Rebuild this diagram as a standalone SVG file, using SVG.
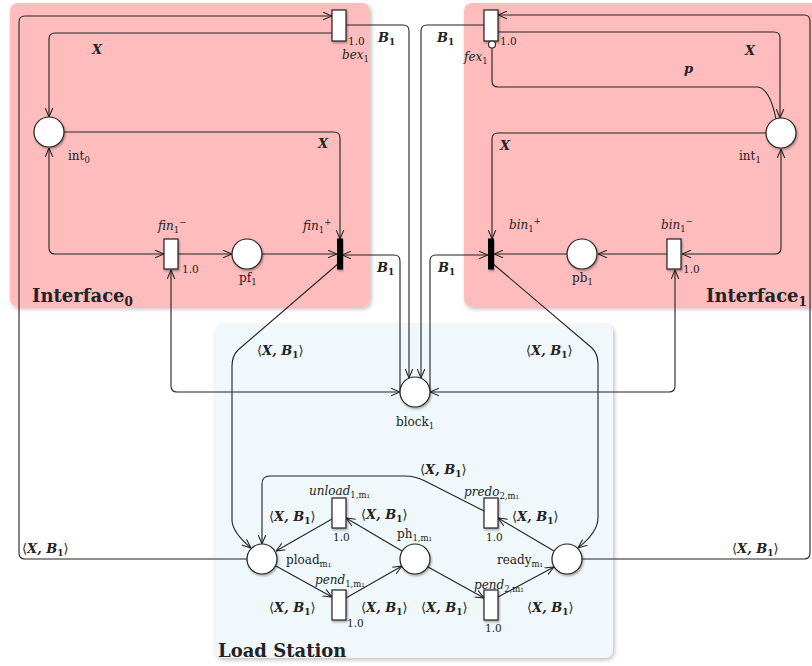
<svg xmlns="http://www.w3.org/2000/svg" width="812" height="666" viewBox="0 0 812 666" font-family="'DejaVu Serif', serif">
<style>
.edge{fill:none;stroke:#222;stroke-width:1.1}
.pl{fill:#fff;stroke:#222;stroke-width:1.2}
.tr{fill:#fff;stroke:#222;stroke-width:1.2}
.trb{fill:#000;stroke:#000;stroke-width:1}
text{fill:#222}
.lb{font-size:12px}
.it{font-size:12px;font-style:italic}
.w{font-size:10.5px}
.m{font-size:13px;font-weight:bold;font-style:italic}
.title{font-size:18px;font-weight:bold}
.ang{font-style:normal;font-weight:normal}
.s{font-size:8.5px;font-style:normal;font-weight:normal}
.sb{font-size:9px;font-style:normal;font-weight:bold}
</style>
<defs>
<filter id="sh" x="-20%" y="-20%" width="140%" height="140%">
<feDropShadow dx="1" dy="1.5" stdDeviation="1.2" flood-color="#000" flood-opacity="0.35"/>
</filter>
<filter id="bsh" x="-5%" y="-5%" width="110%" height="110%">
<feDropShadow dx="1.5" dy="2" stdDeviation="2" flood-color="#000" flood-opacity="0.25"/>
</filter>
<marker id="a" viewBox="0 0 10 10" refX="10" refY="5" markerWidth="9" markerHeight="9" markerUnits="userSpaceOnUse" orient="auto-start-reverse">
<path d="M0,0.8 L10,5 L0,9.2" fill="none" stroke="#222" stroke-width="1.2"/>
</marker>
</defs>

<g id="backgrounds">
<rect x="10" y="3" width="360" height="304" rx="8" fill="#ffbcbc" filter="url(#bsh)"/>
<rect x="464" y="3" width="360" height="304" rx="8" fill="#ffbcbc" filter="url(#bsh)"/>
<rect x="215" y="324" width="398" height="334" rx="8" fill="#f0f8fc" filter="url(#bsh)"/>
<text class="title" x="32" y="302">Interface<tspan font-size="12" baseline-shift="-4">0</tspan></text>
<text class="title" x="706" y="302">Interface<tspan font-size="12" baseline-shift="-4">1</tspan></text>
<text class="title" x="218" y="657">Load Station</text>
</g>

<g id="connectors">
<path class="edge" d="M247,559 L25,559 Q19,559 19,553 L19,22 Q19,16 25,16 L332,16" marker-end="url(#a)"/>
<path class="edge" d="M332,33 L55,33 Q49,33 49,39 L49,117" marker-end="url(#a)"/>
<path class="edge" d="M346,25 L403,25 Q409,25 409,31 L409,378" marker-end="url(#a)"/>
<path class="edge" d="M484,25 L427,25 Q421,25 421,31 L421,378" marker-end="url(#a)"/>
<path class="edge" d="M400,392 L400,261 Q400,255 394,255 L342,255" marker-end="url(#a)"/>
<path class="edge" d="M430,392 L430,261 Q430,255 436,255 L488,255" marker-end="url(#a)"/>
<path class="edge" d="M171,270 L171,386 Q171,392 177,392 L400,392" marker-start="url(#a)" marker-end="url(#a)"/>
<path class="edge" d="M675,270 L675,386 Q675,392 669,392 L430,392" marker-start="url(#a)" marker-end="url(#a)"/>
<path class="edge" d="M49,148 L49,248 Q49,254 55,254 L164,254" marker-start="url(#a)" marker-end="url(#a)"/>
<path class="edge" d="M178,254 L232,254" marker-end="url(#a)"/>
<path class="edge" d="M262,254 L337,254" marker-end="url(#a)"/>
<path class="edge" d="M64,132 L334,132 Q340,132 340,138 L340,239" marker-end="url(#a)"/>
<path class="edge" d="M339,263 L238,350 Q232,356 232,366 L232,520 Q232,532 251,548" marker-end="url(#a)"/>
<path class="edge" d="M781,149 L781,248 Q781,254 775,254 L682,254" marker-start="url(#a)" marker-end="url(#a)"/>
<path class="edge" d="M667,254 L598,254" marker-end="url(#a)"/>
<path class="edge" d="M567,254 L494,254" marker-end="url(#a)"/>
<path class="edge" d="M766,133 L498,133 Q492,133 492,139 L492,239" marker-end="url(#a)"/>
<path class="edge" d="M498,32 L774,32 Q780,32 780,38 L780,118" marker-end="url(#a)"/>
<path class="edge" d="M776,119 Q770,89 758,87 L498,87 Q492,87 492,81 L492,48"/>
<path class="edge" d="M492,263 L592,348 Q598,354 598,364 L598,518 Q598,532 578,548" marker-end="url(#a)"/>
<path class="edge" d="M582,559 L804,559 Q810,559 810,553 L810,21 Q810,15 804,15 L498,15" marker-end="url(#a)"/>
<path class="edge" d="M276,566 L332,597" marker-end="url(#a)"/>
<path class="edge" d="M346,598 L402,566" marker-end="url(#a)"/>
<path class="edge" d="M402,551 L346,518" marker-end="url(#a)"/>
<path class="edge" d="M332,519 L276,551" marker-end="url(#a)"/>
<path class="edge" d="M428,567 L484,598" marker-end="url(#a)"/>
<path class="edge" d="M498,597 L554,567" marker-end="url(#a)"/>
<path class="edge" d="M554,551 L498,518" marker-end="url(#a)"/>
<path class="edge" d="M484,511 L425,481 Q415,476 405,476 L270,476 Q262,476 262,484 L262,544" marker-end="url(#a)"/>
<g id="arc-labels">
<text class="m" x="92" y="54">X</text>
<text class="m" x="318" y="148">X</text>
<text class="m" x="745" y="55">X</text>
<text class="m" x="500" y="150">X</text>
<text class="m" x="684" y="73">p</text>
<text class="m" x="378" y="42">B<tspan class="sb" baseline-shift="-3">1</tspan></text>
<text class="m" x="437" y="42">B<tspan class="sb" baseline-shift="-3">1</tspan></text>
<text class="m" x="377" y="272">B<tspan class="sb" baseline-shift="-3">1</tspan></text>
<text class="m" x="438" y="272">B<tspan class="sb" baseline-shift="-3">1</tspan></text>
<text class="m" x="257" y="355"><tspan class="ang">⟨</tspan>X, B<tspan class="sb" baseline-shift="-3">1</tspan><tspan class="ang">⟩</tspan></text>
<text class="m" x="526" y="355"><tspan class="ang">⟨</tspan>X, B<tspan class="sb" baseline-shift="-3">1</tspan><tspan class="ang">⟩</tspan></text>
<text class="m" x="22" y="553"><tspan class="ang">⟨</tspan>X, B<tspan class="sb" baseline-shift="-3">1</tspan><tspan class="ang">⟩</tspan></text>
<text class="m" x="732" y="553"><tspan class="ang">⟨</tspan>X, B<tspan class="sb" baseline-shift="-3">1</tspan><tspan class="ang">⟩</tspan></text>
<text class="m" x="420" y="474"><tspan class="ang">⟨</tspan>X, B<tspan class="sb" baseline-shift="-3">1</tspan><tspan class="ang">⟩</tspan></text>
<text class="m" x="269" y="521"><tspan class="ang">⟨</tspan>X, B<tspan class="sb" baseline-shift="-3">1</tspan><tspan class="ang">⟩</tspan></text>
<text class="m" x="361" y="519"><tspan class="ang">⟨</tspan>X, B<tspan class="sb" baseline-shift="-3">1</tspan><tspan class="ang">⟩</tspan></text>
<text class="m" x="512" y="521"><tspan class="ang">⟨</tspan>X, B<tspan class="sb" baseline-shift="-3">1</tspan><tspan class="ang">⟩</tspan></text>
<text class="m" x="269" y="612"><tspan class="ang">⟨</tspan>X, B<tspan class="sb" baseline-shift="-3">1</tspan><tspan class="ang">⟩</tspan></text>
<text class="m" x="361" y="612"><tspan class="ang">⟨</tspan>X, B<tspan class="sb" baseline-shift="-3">1</tspan><tspan class="ang">⟩</tspan></text>
<text class="m" x="421" y="612"><tspan class="ang">⟨</tspan>X, B<tspan class="sb" baseline-shift="-3">1</tspan><tspan class="ang">⟩</tspan></text>
<text class="m" x="527" y="612"><tspan class="ang">⟨</tspan>X, B<tspan class="sb" baseline-shift="-3">1</tspan><tspan class="ang">⟩</tspan></text>
</g>
</g>

<g id="bex1">
<rect class="tr" x="332" y="10" width="14" height="31" filter="url(#sh)"/>
<text class="w" x="348" y="45">1.0</text>
<text class="it" x="342" y="59">bex<tspan class="s" baseline-shift="-3">1</tspan></text>
</g>
<g id="int0">
<circle class="pl" cx="49" cy="132" r="15" filter="url(#sh)"/>
<text class="lb" x="68" y="160">int<tspan class="s" baseline-shift="-3">0</tspan></text>
</g>
<g id="fin1minus">
<rect class="tr" x="164" y="239" width="14" height="30" filter="url(#sh)"/>
<text class="it" x="158" y="230">fin<tspan class="s" baseline-shift="-3">1</tspan><tspan class="s" baseline-shift="5">−</tspan></text>
<text class="w" x="182" y="273">1.0</text>
</g>
<g id="pf1">
<circle class="pl" cx="247" cy="254" r="15" filter="url(#sh)"/>
<text class="lb" x="239" y="282">pf<tspan class="s" baseline-shift="-3">1</tspan></text>
</g>
<g id="fin1plus">
<rect class="trb" x="337.5" y="239" width="5" height="30" filter="url(#sh)"/>
<text class="it" x="303" y="230">fin<tspan class="s" baseline-shift="-3">1</tspan><tspan class="s" baseline-shift="5">+</tspan></text>
</g>
<g id="fex1">
<rect class="tr" x="484" y="10" width="14" height="31" filter="url(#sh)"/>
<circle cx="492" cy="44.5" r="3.5" fill="#fff" stroke="#222" stroke-width="1.1"/>
<text class="w" x="500" y="45">1.0</text>
<text class="it" x="464" y="61">fex<tspan class="s" baseline-shift="-3">1</tspan></text>
</g>
<g id="int1">
<circle class="pl" cx="781" cy="133" r="15" filter="url(#sh)"/>
<text class="lb" x="739" y="160">int<tspan class="s" baseline-shift="-3">1</tspan></text>
</g>
<g id="bin1plus">
<rect class="trb" x="488.5" y="239" width="5" height="30" filter="url(#sh)"/>
<text class="it" x="509" y="229">bin<tspan class="s" baseline-shift="-3">1</tspan><tspan class="s" baseline-shift="5">+</tspan></text>
</g>
<g id="pb1">
<circle class="pl" cx="582" cy="254" r="15" filter="url(#sh)"/>
<text class="lb" x="572" y="282">pb<tspan class="s" baseline-shift="-3">1</tspan></text>
</g>
<g id="bin1minus">
<rect class="tr" x="667" y="239" width="14" height="30" filter="url(#sh)"/>
<text class="it" x="661" y="229">bin<tspan class="s" baseline-shift="-3">1</tspan><tspan class="s" baseline-shift="5">−</tspan></text>
<text class="w" x="683" y="273">1.0</text>
</g>
<g id="block1">
<circle class="pl" cx="415" cy="392" r="15" filter="url(#sh)"/>
<text class="lb" x="396" y="426">block<tspan class="s" baseline-shift="-3">1</tspan></text>
</g>
<g id="unload">
<rect class="tr" x="332" y="498" width="14" height="30" filter="url(#sh)"/>
<text class="it" x="309" y="495">unload<tspan class="s" baseline-shift="-3">1,m₁</tspan></text>
<text class="w" x="333" y="541">1.0</text>
</g>
<g id="pload">
<circle class="pl" cx="262" cy="559" r="15" filter="url(#sh)"/>
<text class="lb" x="286" y="564">pload<tspan class="s" baseline-shift="-3">m₁</tspan></text>
</g>
<g id="pend1">
<rect class="tr" x="332" y="590" width="14" height="30" filter="url(#sh)"/>
<text class="it" x="315" y="584">pend<tspan class="s" baseline-shift="-3">1,m₁</tspan></text>
<text class="w" x="347" y="627">1.0</text>
</g>
<g id="ph1">
<circle class="pl" cx="415" cy="559" r="15" filter="url(#sh)"/>
<text class="lb" x="397" y="538">ph<tspan class="s" baseline-shift="-3">1,m₁</tspan></text>
</g>
<g id="predo">
<rect class="tr" x="484" y="498" width="14" height="30" filter="url(#sh)"/>
<text class="it" x="464" y="496">predo<tspan class="s" baseline-shift="-3">2,m₁</tspan></text>
<text class="w" x="486" y="541">1.0</text>
</g>
<g id="pend2">
<rect class="tr" x="484" y="590" width="14" height="30" filter="url(#sh)"/>
<text class="it" x="474" y="589">pend<tspan class="s" baseline-shift="-3">2,m₁</tspan></text>
<text class="w" x="485" y="632">1.0</text>
</g>
<g id="ready">
<circle class="pl" cx="567" cy="559" r="15" filter="url(#sh)"/>
<text class="lb" x="497" y="564">ready<tspan class="s" baseline-shift="-3">m₁</tspan></text>
</g>
</svg>
